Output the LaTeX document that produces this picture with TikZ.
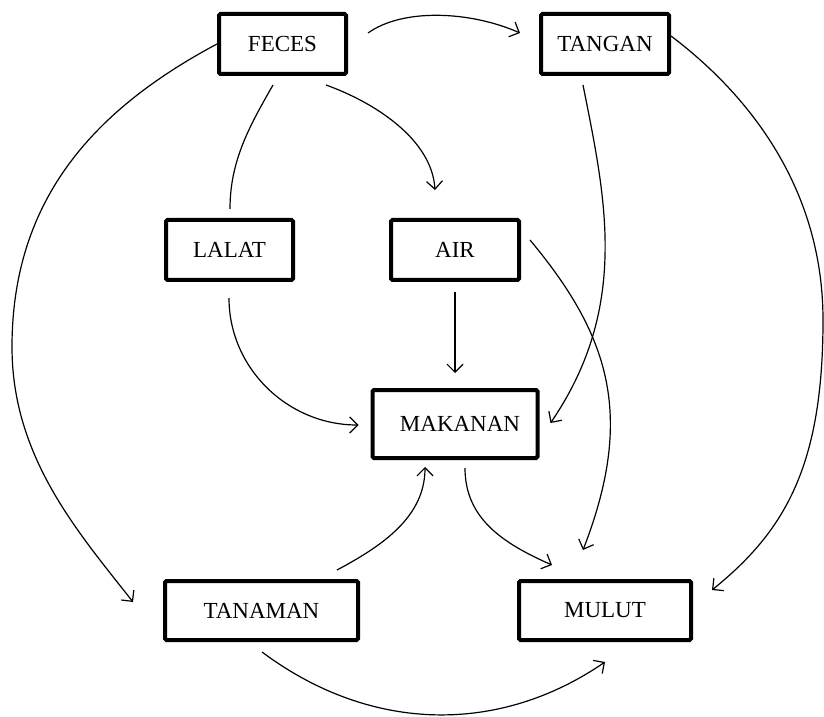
\documentclass[tikz,border=0pt]{standalone}
\usepackage{fontspec}
\setmainfont{Liberation Serif}
\usetikzlibrary{arrows.meta}
\tikzset{
  nbox/.style={draw=black, line width=4pt, rounded corners=1.5pt, fill=white,
    inner sep=0pt, font=\fontsize{23pt}{27pt}\selectfont},
  conn/.style={line width=1.2pt, -{Straight Barb[length=8pt,width=16pt]}},
  plainconn/.style={line width=1.2pt}
}
\begin{document}
\begin{tikzpicture}[x=1pt,y=1pt]
\useasboundingbox[fill=white] (0,0) rectangle (824,716);
% nodes
\node[nbox, minimum width=127pt, minimum height=60pt] (FECES) at (282.5,672) {FECES};
\node[nbox, minimum width=128pt, minimum height=60pt] (TANGAN) at (605,672) {TANGAN};
\node[nbox, minimum width=127pt, minimum height=60pt] (LALAT) at (229.5,466) {LALAT};
\node[nbox, minimum width=128pt, minimum height=60pt] (AIR) at (455,466) {AIR};
\node[nbox, minimum width=165pt, minimum height=68pt] (MAKANAN) at (455,292) {\hspace*{10pt}MAKANAN};
\node[nbox, minimum width=193pt, minimum height=59pt] (TANAMAN) at (261.5,105.5) {TANAMAN};
\node[nbox, minimum width=172pt, minimum height=59pt] (MULUT) at (605,105.5) {MULUT};
% waypoints of the two large arcs
\coordinate (larc) at (12,369);
\coordinate (rarc) at (823,396);
% connectors
\draw[conn] ([xshift=20pt,yshift=11pt]FECES.east) .. controls +(35,25) and +(-50,22) .. ([xshift=-19pt,yshift=11pt]TANGAN.west);
\draw[conn] (FECES.west) .. controls +(-120,-64) and +(0,150) .. (larc)
  .. controls +(0,-110) and +(-55,70) .. ([xshift=-30pt,yshift=8.5pt]TANAMAN.west);
\draw[plainconn] ([xshift=-9.5pt,yshift=-9pt]FECES.south) .. controls +(-24,-42) and +(0,48) .. ([xshift=0.5pt,yshift=9pt]LALAT.north);
\draw[conn] ([xshift=43.5pt,yshift=-9pt]FECES.south) .. controls +(50,-18) and +(-3,50) .. ([xshift=-20pt,yshift=28pt]AIR.north);
\draw[conn] ([xshift=-22pt,yshift=-9pt]TANGAN.south) .. controls +(22,-111) and +(80,117) .. ([xshift=11pt,yshift=1pt]MAKANAN.east);
\draw[conn] ([yshift=8pt]TANGAN.east) .. controls +(86,-65) and +(0,124) .. (rarc)
  .. controls +(0,-146) and +(73,59) .. ([xshift=19pt,yshift=20.5pt]MULUT.east);
\draw[conn] ([xshift=-0.5pt,yshift=-16pt]LALAT.south) .. controls +(0,-70) and +(-71,0) .. ([xshift=-12pt,yshift=-1pt]MAKANAN.west);
\draw[conn, shorten <=10pt, shorten >=15pt] (AIR.south) -- (MAKANAN.north);
\draw[conn] ([xshift=9pt,yshift=10pt]AIR.east) .. controls +(80,-96) and +(52,134) .. ([xshift=-22pt,yshift=29pt]MULUT.north);
\draw[conn] ([xshift=10pt,yshift=-8pt]MAKANAN.south) .. controls +(0,-50) and +(-50,22) .. ([xshift=-53pt,yshift=14pt]MULUT.north);
\draw[conn] ([xshift=75.5pt,yshift=9pt]TANAMAN.north) .. controls +(45,24) and +(0,-50) .. ([xshift=-30pt,yshift=-7pt]MAKANAN.south);
\draw[conn] ([xshift=0.5pt,yshift=-10pt]TANAMAN.south) .. controls +(110,-82) and +(-105,-72) .. ([yshift=-20pt]MULUT.south);
\end{tikzpicture}
\end{document}
